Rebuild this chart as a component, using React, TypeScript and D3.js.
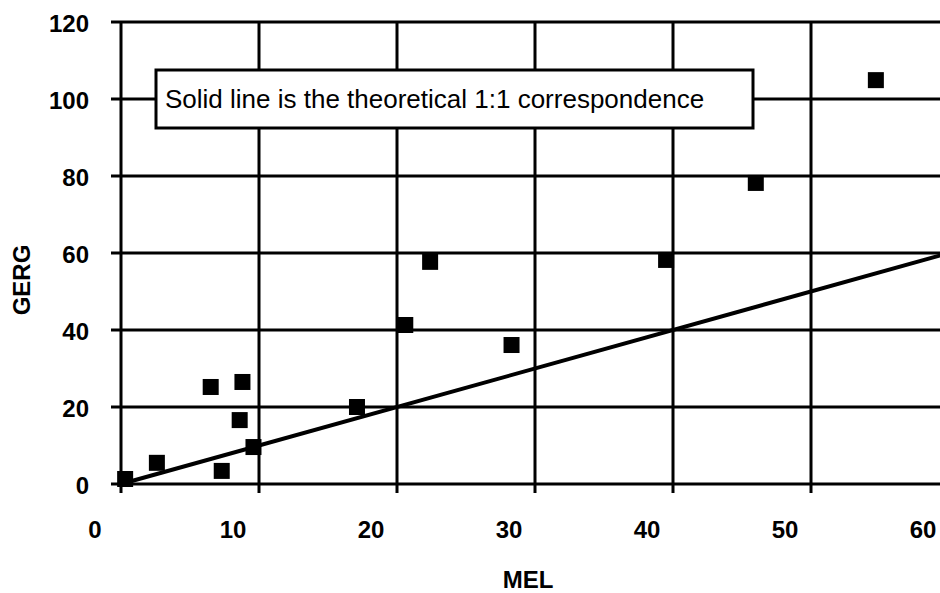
import React from "react";
import * as d3 from "d3";

const melValues = [0.3, 2.6, 7.3, 6.5, 8.8, 8.6, 9.6, 17.1, 20.6, 22.4, 28.3, 39.5, 46.0, 54.7];
const gergValues = [1.3, 5.5, 3.4, 25.2, 26.5, 16.6, 9.6, 20.0, 41.3, 57.7, 36.1, 58.2, 78.2, 104.9];
const xTicks = [0, 10, 20, 30, 40, 50, 60];
const yTicks = [0, 20, 40, 60, 80, 100, 120];
const identityLine = [0, 60];
const legendText = "Solid line is the theoretical 1:1 correspondence";
const xTitle = "MEL";
const yTitle = "GERG";

const W = 940;
const H = 593;

export default function App() {
  const x = d3.scaleLinear().domain([0, 60]).range([121, 949]);
  const y = d3.scaleLinear().domain([0, 120]).range([484, 22]);
  const font = "Arial, 'Liberation Sans', Helvetica, sans-serif";
  const line = d3
    .line<number>()
    .x((d) => x(d))
    .y((d) => y(d));
  const ms = 16;
  return (
    <svg
      width={W}
      height={H}
      viewBox={`0 0 ${W} ${H}`}
      style={{ position: "absolute", left: 0, top: 0, background: "#fff" }}
    >
      <rect x={0} y={0} width={W} height={H} fill="#fff" />
      {/* horizontal gridlines */}
      {yTicks.map((t) => (
        <line key={"h" + t} x1={111} x2={W} y1={y(t)} y2={y(t)} stroke="#000" strokeWidth={3} />
      ))}
      {/* vertical gridlines */}
      {xTicks.map((t) => (
        <line key={"v" + t} x1={x(t)} x2={x(t)} y1={y(120)} y2={493} stroke="#000" strokeWidth={3} />
      ))}
      {/* y tick labels */}
      {yTicks.map((t) => (
        <text
          key={"yl" + t}
          x={89}
          y={y(t) + 1}
          textAnchor="end"
          dominantBaseline="central"
          fontFamily={font}
          fontWeight="bold"
          fontSize={24}
          fill="#000"
        >
          {t}
        </text>
      ))}
      {/* x tick labels */}
      {xTicks.map((t) => (
        <text
          key={"xl" + t}
          x={x(t) - 26}
          y={538}
          textAnchor="middle"
          fontFamily={font}
          fontWeight="bold"
          fontSize={24}
          fill="#000"
        >
          {t}
        </text>
      ))}
      {/* identity line */}
      <path d={line(identityLine) || ""} fill="none" stroke="#000" strokeWidth={4} />
      {/* points */}
      {melValues.map((m, i) => (
        <rect
          key={"p" + i}
          x={x(m) - ms / 2}
          y={y(gergValues[i]) - ms / 2}
          width={ms}
          height={ms}
          fill="#000"
        />
      ))}
      {/* legend box */}
      <rect x={156} y={70} width={597} height={58} fill="#fff" stroke="#000" strokeWidth={3} />
      <text x={165} y={108} fontFamily={font} fontSize={26} fill="#000">
        {legendText}
      </text>
      {/* axis titles */}
      <text
        x={528}
        y={588}
        textAnchor="middle"
        fontFamily={font}
        fontWeight="bold"
        fontSize={24}
        fill="#000"
      >
        {xTitle}
      </text>
      <text
        transform={`translate(30, 280) rotate(-90)`}
        textAnchor="middle"
        fontFamily={font}
        fontWeight="bold"
        fontSize={24}
        fill="#000"
      >
        {yTitle}
      </text>
    </svg>
  );
}
